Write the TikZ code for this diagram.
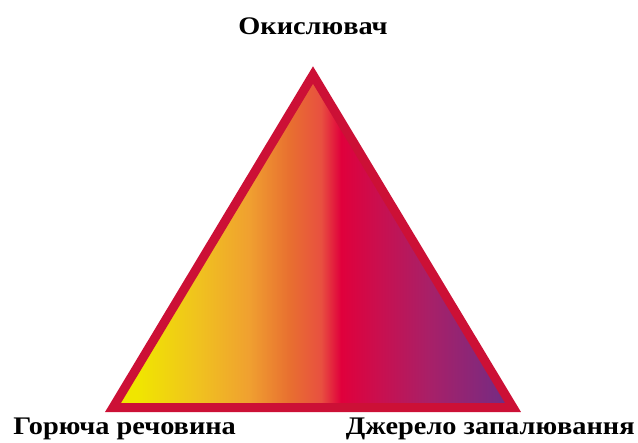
\documentclass[tikz,border=0pt]{standalone}
\usepackage{fontspec}
\setmainfont{Liberation Serif}
\usepackage{xcolor}

\definecolor{fireYel}{HTML}{F0E600}
\definecolor{fireAmb}{HTML}{F0C020}
\definecolor{fireOra}{HTML}{F0A030}
\definecolor{fireRor}{HTML}{E87030}
\definecolor{fireSal}{HTML}{E85040}
\definecolor{fireCri}{HTML}{E0003C}
\definecolor{fireRas}{HTML}{C81050}
\definecolor{fireMag}{HTML}{A82068}
\definecolor{firePlu}{HTML}{7A2A80}
\definecolor{firePur}{HTML}{6A3088}
\definecolor{edgeRed}{HTML}{CC1036}

\pgfdeclarehorizontalshading{firegrad}{100bp}{
  color(0bp)=(fireYel); color(28bp)=(fireYel); color(36bp)=(fireAmb);
  color(42bp)=(fireOra); color(47bp)=(fireRor); color(51bp)=(fireSal);
  color(53.5bp)=(fireCri); color(58.5bp)=(fireRas); color(64.5bp)=(fireMag);
  color(73bp)=(firePlu); color(74bp)=(firePur); color(100bp)=(firePur)}

\begin{document}
\begin{tikzpicture}[x=0.025cm,y=0.025cm,line cap=round,
  lbl/.style={font=\bfseries\fontsize{18}{20}\selectfont,inner sep=0pt,xscale=1.12}]
\useasboundingbox (0,0) rectangle (638,442);
\coordinate (apex) at (313,367);
\coordinate (lft) at (113,34.5);
\coordinate (rgt) at (513,34.5);
\shade[shading=firegrad] (lft) -- (apex) -- (rgt) -- cycle;
\draw[edgeRed,line width=6.4pt,line join=miter] (lft) -- (apex) -- (rgt) -- cycle;
\node[lbl,anchor=base] (oxid) at (313,407) {Окислювач};
\node[lbl,anchor=base west] (fuel) at (13,8) {Горюча речовина};
\node[lbl,anchor=base east] (ignit) at (635,8) {Джерело запалювання};
\end{tikzpicture}
\end{document}
